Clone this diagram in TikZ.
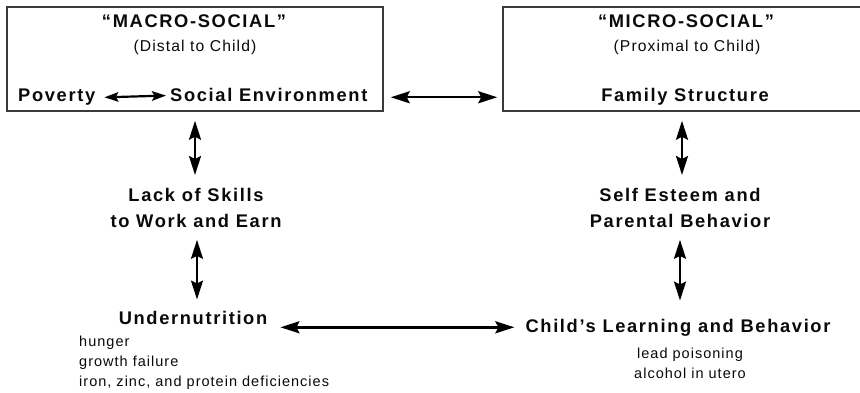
\documentclass[tikz,border=0pt]{standalone}
\usepackage{fontspec}
\setmainfont{Liberation Sans}
\newfontfamily\lsbold[LetterSpace=9]{Liberation Sans}
\newfontfamily\lsreg[LetterSpace=7]{Liberation Sans}
\usetikzlibrary{arrows.meta}
\definecolor{txt}{HTML}{0A0A0A}
\definecolor{boxline}{HTML}{3A3A3A}
\tikzset{
  boxnode/.style={draw=boxline, line width=1.5pt, inner sep=0pt, rectangle},
  bigtext/.style={font=\lsbold\bfseries\fontsize{18.3}{26}\selectfont, inner sep=0pt, text=txt},
  subtext/.style={font=\lsreg\fontsize{15.7}{20}\selectfont, inner sep=0pt, text=txt},
  listtext/.style={font=\lsreg\fontsize{14.5}{20}\selectfont, inner sep=0pt, text=txt},
  arr/.style={line width=2.4pt, draw=black, {Stealth[length=19pt,width=12pt,inset=3pt]}-{Stealth[length=19pt,width=12pt,inset=3pt]}},
  smallarr/.style={line width=2.2pt, draw=black, {Stealth[length=14pt,width=9.5pt,inset=2.5pt]}-{Stealth[length=14pt,width=9.5pt,inset=2.5pt]}}
}
\begin{document}
\begin{tikzpicture}[x=1pt,y=-1pt]
\useasboundingbox (0,0) rectangle (860,393);
\clip (0,0) rectangle (860,393);
\fill[white] (0,0) rectangle (860,393);
% boxes
\node[boxnode, minimum width=376pt, minimum height=104pt] (macro) at (195,59) {};
\node[boxnode, minimum width=367pt, minimum height=104pt] (micro) at (686.5,59) {};
% titles
\node[bigtext, anchor=base] (macrot) at (194,28) {“MACRO-SOCIAL”};
\node[subtext, anchor=base] (macros) at (195,52) {(Distal to Child)};
\node[bigtext, anchor=base] (microt) at (686,28) {“MICRO-SOCIAL”};
\node[subtext, anchor=base] (micros) at (687,52) {(Proximal to Child)};
\node[bigtext, anchor=base west] (pov) at (18,102) {Poverty};
\node[bigtext, anchor=base west] (soc) at (170,102) {Social Environment};
\node[bigtext, anchor=base] (fam) at (685,102) {Family Structure};
% middle
\node[bigtext, anchor=north, align=center] (skills) at (196,188) {Lack of Skills\\to Work and Earn};
\node[bigtext, anchor=north, align=center] (esteem) at (680,188) {Self Esteem and\\Parental Behavior};
% bottom
\node[bigtext, anchor=base] (under) at (193,324) {Undernutrition};
\node[bigtext, anchor=base] (child) at (678,332) {Child’s Learning and Behavior};
\node[listtext, anchor=north west, align=left] (ulist) at (79,336) {hunger\\growth failure\\iron, zinc, and protein deficiencies};
\node[listtext, anchor=north, align=center] (clist) at (690,347.5) {lead poisoning\\alcohol in utero};
% connectors
\draw[smallarr, shorten <=9pt, shorten >=4pt] (pov.east) -- (soc.west);
\draw[arr, shorten <=7pt, shorten >=5pt] (macro.east |- fam) -- (micro.west |- fam);
\draw[arr, shorten <=9pt, shorten >=13pt] (macro.south -| 195,0) -- (skills.north -| 195,0);
\draw[arr, shorten <=12pt, shorten >=11pt] (skills.south -| 197,0) -- (under.north -| 197,0);
\draw[arr, shorten <=9pt, shorten >=13pt] (micro.south -| 682,0) -- (esteem.north -| 682,0);
\draw[arr, shorten <=12pt, shorten >=18pt] (esteem.south -| 680,0) -- (child.north -| 680,0);
\draw[arr, shorten <=13pt, shorten >=11pt] (under.east |- child) -- (child.west);
\end{tikzpicture}
\end{document}
